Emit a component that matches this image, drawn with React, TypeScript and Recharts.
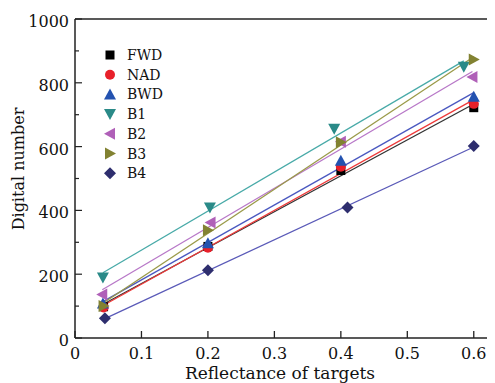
import React from 'react';
import { ScatterChart, Scatter, XAxis, YAxis, ReferenceLine, Legend } from 'recharts';

const xTicks = [0, 0.1, 0.2, 0.3, 0.4, 0.5, 0.6];
const yTicks = [0, 100, 200, 300, 400, 500, 600, 700, 800, 900, 1000];
const yMajor = [0, 200, 400, 600, 800, 1000];

const seriesNames = ['FWD', 'NAD', 'BWD', 'B1', 'B2', 'B3', 'B4'];

const fwdX = [0.043, 0.2, 0.4, 0.6];
const fwdY = [98, 287, 525, 722];
const nadX = [0.043, 0.2, 0.4, 0.6];
const nadY = [96, 283, 537, 734];
const bwdX = [0.042, 0.2, 0.4, 0.6];
const bwdY = [108, 297, 556, 756];
const b1X = [0.042, 0.203, 0.39, 0.585];
const b1Y = [190, 409, 656, 850];
const b2X = [0.041, 0.204, 0.4, 0.598];
const b2Y = [136, 362, 615, 818];
const b3X = [0.043, 0.2, 0.4, 0.6];
const b3Y = [100, 338, 614, 873];
const b4X = [0.045, 0.2, 0.41, 0.6];
const b4Y = [62, 212, 409, 602];

const FONT = '"DejaVu Serif", serif';

type Kind = 'square' | 'circle' | 'up' | 'down' | 'left' | 'right' | 'diamond';

const series = [
  { name: seriesNames[0], xs: fwdX, ys: fwdY, kind: 'square' as Kind, marker: '#000000', line: '#333333' },
  { name: seriesNames[1], xs: nadX, ys: nadY, kind: 'circle' as Kind, marker: '#e8202a', line: '#ee3a3a' },
  { name: seriesNames[2], xs: bwdX, ys: bwdY, kind: 'up' as Kind, marker: '#2352b0', line: '#4a58c0' },
  { name: seriesNames[3], xs: b1X, ys: b1Y, kind: 'down' as Kind, marker: '#2a8a88', line: '#48aaa8' },
  { name: seriesNames[4], xs: b2X, ys: b2Y, kind: 'left' as Kind, marker: '#b060b8', line: '#b878c8' },
  { name: seriesNames[5], xs: b3X, ys: b3Y, kind: 'right' as Kind, marker: '#828232', line: '#9a9a48' },
  { name: seriesNames[6], xs: b4X, ys: b4Y, kind: 'diamond' as Kind, marker: '#2e2e6e', line: '#5a5ab8' },
];

function markerEl(kind: Kind, color: string, cx: number, cy: number, key?: string) {
  const s = 5;
  switch (kind) {
    case 'square':
      return <rect key={key} x={cx - 4.5} y={cy - 4.5} width={9} height={9} fill={color} />;
    case 'circle':
      return <circle key={key} cx={cx} cy={cy} r={5} fill={color} />;
    case 'up':
      return <polygon key={key} points={`${cx},${cy - 6} ${cx - 6},${cy + 5} ${cx + 6},${cy + 5}`} fill={color} />;
    case 'down':
      return <polygon key={key} points={`${cx},${cy + 6} ${cx - 6},${cy - 5} ${cx + 6},${cy - 5}`} fill={color} />;
    case 'left':
      return <polygon key={key} points={`${cx - 6},${cy} ${cx + 5},${cy - 6} ${cx + 5},${cy + 6}`} fill={color} />;
    case 'right':
      return <polygon key={key} points={`${cx + 6},${cy} ${cx - 5},${cy - 6} ${cx - 5},${cy + 6}`} fill={color} />;
    case 'diamond':
    default:
      return <polygon key={key} points={`${cx},${cy - s - 1} ${cx + s + 1},${cy} ${cx},${cy + s + 1} ${cx - s - 1},${cy}`} fill={color} />;
  }
}

function fitLine(xs: number[], ys: number[]) {
  const n = xs.length;
  const mx = xs.reduce((a, b) => a + b, 0) / n;
  const my = ys.reduce((a, b) => a + b, 0) / n;
  let num = 0;
  let den = 0;
  for (let i = 0; i < n; i++) {
    num += (xs[i] - mx) * (ys[i] - my);
    den += (xs[i] - mx) * (xs[i] - mx);
  }
  const k = num / den;
  const b = my - k * mx;
  const x0 = Math.min(...xs);
  const x1 = Math.max(...xs);
  return [
    { x: x0, y: k * x0 + b },
    { x: x1, y: k * x1 + b },
  ];
}

const XTick = (props: any) => {
  const { x, y, payload } = props;
  return (
    <g>
      <line x1={x} x2={x} y1={y} y2={y - 7} stroke="#222" strokeWidth={1.3} />
      <text x={x} y={y + 21} textAnchor="middle" fontFamily={FONT} fontSize={16} fill="#111">
        {String(payload.value)}
      </text>
    </g>
  );
};

const YTick = (props: any) => {
  const { x, y, payload } = props;
  const major = yMajor.includes(payload.value);
  return (
    <g>
      <line x1={x} x2={x + (major ? 7 : 4)} y1={y} y2={y} stroke="#222" strokeWidth={1.2} />
      {major ? (
        <text x={x - 6} y={y + 8} textAnchor="end" fontFamily={FONT} fontSize={16} fill="#111">
          {String(payload.value)}
        </text>
      ) : null}
    </g>
  );
};

const LegendContent = () => (
  <svg width={80} height={150} style={{ display: 'block' }}>
    {series.map((s, i) => {
      const cy = 8 + i * 19.7;
      return (
        <g key={s.name}>
          {markerEl(s.kind, s.marker, 8, cy)}
          <text x={25} y={cy + 5} fontFamily={FONT} fontSize={14} fill="#111">
            {s.name}
          </text>
        </g>
      );
    })}
  </svg>
);

const Empty = () => <g />;

export default function App() {
  return (
    <div style={{ width: 487, height: 375, overflow: 'hidden' }}>
      <ScatterChart width={499} height={375} margin={{ top: 11, right: 0, bottom: 0, left: 0 }}>
        <XAxis
          type="number"
          dataKey="x"
          domain={[0, 0.65]}
          ticks={xTicks}
          interval={0}
          allowDataOverflow
          height={45}
          axisLine={{ stroke: '#222', strokeWidth: 1.5 }}
          tickLine={false}
          tickSize={0}
          tickMargin={0}
          tick={<XTick />}
          label={{
            content: () => (
              <text x={272} y={371} textAnchor="middle" fontFamily={FONT} fontSize={17} fill="#111">
                Reflectance of targets
              </text>
            ),
          }}
        />
        <YAxis
          type="number"
          dataKey="y"
          domain={[0, 1000]}
          ticks={yTicks}
          interval={0}
          allowDataOverflow
          width={67}
          axisLine={{ stroke: '#222', strokeWidth: 1.5 }}
          tickLine={false}
          tickSize={0}
          tickMargin={0}
          tick={<YTick />}
          label={{
            content: () => (
              <text
                x={10}
                y={161}
                transform="rotate(-90 10 161)"
                textAnchor="middle"
                dominantBaseline="central"
                fontFamily={FONT}
                fontSize={16}
                fill="#111"
              >
                Digital number
              </text>
            ),
          }}
        />
        <ReferenceLine y={1000} stroke="#222" strokeWidth={1.5} />
        {series.map((s) => (
          <Scatter
            key={`fit-${s.name}`}
            name={`fit-${s.name}`}
            data={fitLine(s.xs, s.ys)}
            line={{ stroke: s.line, strokeWidth: 1.3 }}
            shape={<Empty />}
            legendType="none"
            isAnimationActive={false}
          />
        ))}
        {series.map((s) => (
          <Scatter
            key={s.name}
            name={s.name}
            data={s.xs.map((x, i) => ({ x, y: s.ys[i] }))}
            shape={(p: any) => markerEl(s.kind, s.marker, p.cx, p.cy)}
            isAnimationActive={false}
          />
        ))}
        <Legend
          layout="vertical"
          align="center"
          verticalAlign="middle"
          content={<LegendContent />}
          wrapperStyle={{ left: 94, top: 39, width: 80, height: 150 }}
        />
      </ScatterChart>
    </div>
  );
}
